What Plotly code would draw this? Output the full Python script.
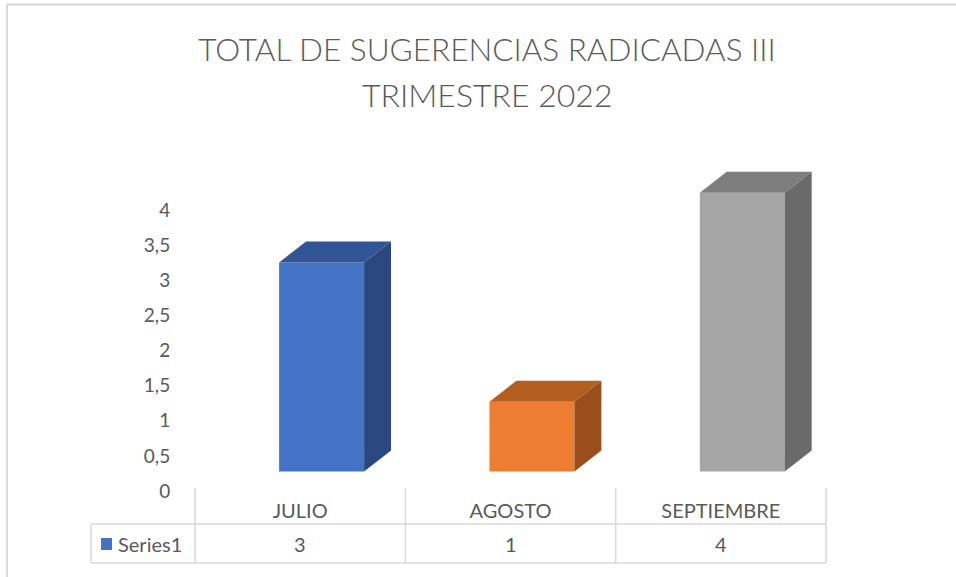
import plotly.graph_objects as go

# ---- data ----
categories = ["JULIO", "AGOSTO", "SEPTIEMBRE"]
values = [3, 1, 4]
series_name = "Series1"
title_line1 = "TOTAL DE SUGERENCIAS RADICADAS III"
title_line2 = "TRIMESTRE 2022"
ytick_vals = [0, 0.5, 1, 1.5, 2, 2.5, 3, 3.5, 4]
ytick_text = ["0", "0,5", "1", "1,5", "2", "2,5", "3", "3,5", "4"]

# ---- styles ----
front_colors = ["#4472C4", "#ED7D31", "#A5A5A5"]
top_colors = ["#325596", "#B45E22", "#7E7E7E"]
side_colors = ["#2B4780", "#994E1B", "#6A6A6A"]
text_color = "#595959"
grid_color = "#D9D9D9"
FONT = "Lato"

W, H = 956, 577
L, R, T, B = 195, 130, 130, 86
plot_w = W - L - R
plot_h = H - T - B

bar_shift = 0.102   # perspective shift of front face within category
bar_w = 0.404
depth_x = 0.128
depth_y = 0.301

fig = go.Figure()

# invisible trace to anchor the tick axis
fig.add_trace(go.Scatter(x=[0], y=[0], mode="markers", marker=dict(opacity=0),
                         hoverinfo="skip", showlegend=False, xaxis="x", yaxis="y"))

xs = [i + bar_shift for i in range(len(categories))]
fig.add_trace(go.Bar(x=xs, y=values, width=bar_w, base=0,
                     marker=dict(color=front_colors, line=dict(width=0)),
                     name=series_name, showlegend=False, xaxis="x", yaxis="y2"))

shapes = []
for i, v in enumerate(values):
    x0 = xs[i] - bar_w / 2
    x1 = xs[i] + bar_w / 2
    top = (f"M {x0} {v} L {x0 + depth_x} {v + depth_y} "
           f"L {x1 + depth_x} {v + depth_y} L {x1} {v} Z")
    side = (f"M {x1} 0 L {x1 + depth_x} {depth_y} "
            f"L {x1 + depth_x} {v + depth_y} L {x1} {v} Z")
    shapes.append(dict(type="path", path=top, xref="x", yref="y2",
                       fillcolor=top_colors[i], line=dict(width=0), layer="above"))
    shapes.append(dict(type="path", path=side, xref="x", yref="y2",
                       fillcolor=side_colors[i], line=dict(width=0), layer="above"))

# ---- data table lines (domain / paper refs) ----
def px_to_xdom(px):
    return (px - L) / plot_w

def px_to_ypap(py):
    return (H - B - py) / plot_h

n = len(categories)
y_top_tbl = px_to_ypap(488)
y_row = px_to_ypap(524)
y_bot = px_to_ypap(563)
x_left_tbl = px_to_xdom(91)
line_style = dict(color=grid_color, width=1.5)
for k in range(n + 1):
    shapes.append(dict(type="line", xref="x domain", yref="paper",
                       x0=k / n, x1=k / n, y0=y_top_tbl, y1=y_bot, line=line_style))
shapes.append(dict(type="line", xref="x domain", yref="paper",
                   x0=x_left_tbl, x1=1, y0=y_row, y1=y_row, line=line_style))
shapes.append(dict(type="line", xref="x domain", yref="paper",
                   x0=x_left_tbl, x1=1, y0=y_bot, y1=y_bot, line=line_style))
shapes.append(dict(type="line", xref="x domain", yref="paper",
                   x0=x_left_tbl, x1=x_left_tbl, y0=y_row, y1=y_bot, line=line_style))
# legend key square
shapes.append(dict(type="rect", xref="x domain", yref="paper",
                   x0=px_to_xdom(101), x1=px_to_xdom(112),
                   y0=px_to_ypap(550), y1=px_to_ypap(538),
                   fillcolor=front_colors[0], line=dict(width=0)))
# chart border (top and left)
shapes.append(dict(type="line", xref="x domain", yref="paper",
                   x0=px_to_xdom(7), x1=px_to_xdom(W + 5), y0=px_to_ypap(4.5), y1=px_to_ypap(4.5),
                   line=dict(color=grid_color, width=2)))
shapes.append(dict(type="line", xref="x domain", yref="paper",
                   x0=px_to_xdom(7), x1=px_to_xdom(7), y0=px_to_ypap(4), y1=px_to_ypap(H + 5),
                   line=dict(color=grid_color, width=2)))

annotations = []
row_y = px_to_ypap(543.5)
table_font = dict(family=FONT, size=20, color=text_color)
title_font = dict(family=FONT, size=31.5, color=text_color, weight=300)
for i, v in enumerate(values):
    annotations.append(dict(x=i, y=row_y, xref="x", yref="paper", text=str(v),
                            showarrow=False, xanchor="center", yanchor="middle",
                            font=table_font))
annotations.append(dict(x=px_to_xdom(116), y=row_y, xref="x domain", yref="paper",
                        text=series_name, showarrow=False, xanchor="left", yanchor="middle",
                        font=table_font))
annotations.append(dict(x=px_to_xdom(487), y=px_to_ypap(94), xref="paper", yref="paper",
                        text=title_line2, showarrow=False, xanchor="center", yanchor="middle",
                        font=dict(family=FONT, size=32, color=text_color, weight=300)))

fig.update_layout(
    width=W, height=H,
    margin=dict(l=L, r=R, t=T, b=B),
    paper_bgcolor="white", plot_bgcolor="white",
    title=dict(text=title_line1, x=487 / W, xanchor="center",
               y=1 - 50 / H, yanchor="middle", yref="container",
               font=title_font),
    xaxis=dict(range=[-0.5, n - 0.5], tickvals=list(range(n)), ticktext=categories,
               showgrid=False, zeroline=False, showline=False,
               ticks="outside", ticklen=2, tickcolor="rgba(0,0,0,0)",
               tickfont=table_font),
    yaxis=dict(range=[0, (H - B - T) / 70.25], tickvals=ytick_vals, ticktext=ytick_text,
               showgrid=False, zeroline=False, showline=False,
               ticks="outside", ticklen=20, tickcolor="rgba(0,0,0,0)",
               tickfont=dict(family=FONT, size=19, color=text_color)),
    yaxis2=dict(range=[-19.5 / 69.7, (H - B - T - 19.5) / 69.7], overlaying="y",
                visible=False, showgrid=False, zeroline=False),
    shapes=shapes,
    annotations=annotations,
    showlegend=False,
)

fig.write_html("out.html", config={"displayModeBar": False},
               post_script="document.body.style.margin='0';document.body.style.overflow='hidden';")
